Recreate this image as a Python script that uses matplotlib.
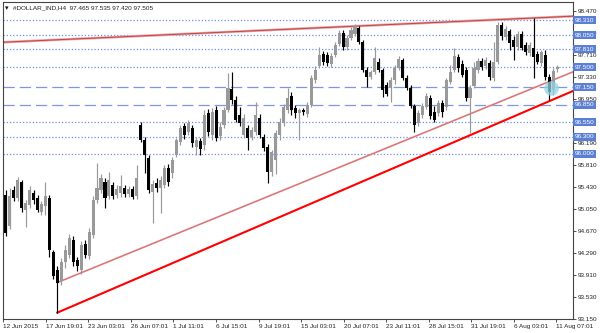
import numpy as np
import matplotlib
matplotlib.use("Agg")
import matplotlib.pyplot as plt

# H4 candles (roughly one candle per 4 px)
opens = [95.29, 94.76, 95.38, 95.24, 95.52, 95.03, 95.12, 95.33, 95.24, 95.00,
         95.11, 95.24, 94.31, 94.00, 93.81, 94.14, 94.25, 94.52, 94.17, 94.00,
         94.45, 94.24, 94.60, 95.21, 95.38, 95.52, 95.28, 95.47, 95.29, 95.33,
         95.41, 95.31, 95.40, 95.28, 96.50, 96.24, 95.93, 95.34, 95.50, 95.41,
         95.47, 95.76, 95.67, 95.98, 96.21, 96.48, 96.38, 96.45, 96.12, 96.22,
         96.16, 96.71, 96.33, 96.76, 96.31, 96.50, 96.76, 97.12, 96.93, 96.67,
         96.33, 96.45, 96.29, 96.38, 96.62, 96.29, 96.12, 95.69, 95.90, 96.33,
         96.53, 96.76, 97.00, 96.79, 96.71, 96.76, 96.69, 96.85, 97.28, 97.52,
         97.73, 97.71, 97.55, 97.71, 97.90, 98.09, 97.85, 98.00, 98.07, 98.18,
         97.93, 97.45, 97.33, 97.42, 97.59, 97.45, 97.19, 97.14, 97.28, 97.48,
         97.62, 97.31, 97.14, 96.83, 96.53, 96.67, 96.81, 96.97, 96.73, 96.71,
         96.88, 96.81, 97.24, 97.45, 97.67, 97.55, 97.45, 96.97, 97.17, 97.45,
         97.61, 97.52, 97.57, 97.31, 97.59, 98.23, 98.02, 98.12, 97.97, 97.85,
         98.07, 97.88, 97.74, 97.83, 97.73, 97.57, 97.71, 97.33, 97.11, 97.465]
highs = [95.38, 95.41, 95.45, 95.60, 95.55, 95.21, 95.45, 95.38, 95.29, 95.19,
         95.52, 95.29, 94.34, 94.07, 94.20, 94.42, 94.62, 94.59, 94.22, 94.50,
         94.52, 94.72, 95.28, 95.85, 95.65, 95.58, 95.69, 95.52, 95.47, 95.64,
         95.47, 95.45, 95.45, 95.81, 96.55, 96.29, 95.98, 95.55, 95.58, 95.62,
         95.81, 95.83, 95.95, 96.28, 96.50, 96.53, 96.59, 96.50, 96.29, 96.28,
         96.76, 96.78, 96.79, 96.83, 96.55, 96.81, 97.40, 97.42, 97.00, 96.81,
         96.69, 96.50, 96.47, 96.90, 96.69, 96.35, 96.17, 96.07, 96.42, 96.62,
         96.86, 97.14, 97.07, 96.85, 96.79, 96.79, 96.90, 97.36, 97.52, 97.85,
         97.78, 97.76, 97.74, 97.93, 98.14, 98.14, 98.06, 98.19, 98.25, 98.21,
         97.97, 97.50, 97.45, 97.85, 97.66, 97.48, 97.24, 97.33, 97.54, 97.69,
         97.66, 97.36, 97.19, 96.86, 96.76, 96.88, 97.05, 97.02, 96.83, 96.93,
         96.93, 97.31, 97.54, 97.83, 97.73, 97.62, 97.50, 97.19, 97.59, 97.66,
         97.66, 97.67, 97.62, 97.93, 98.28, 98.28, 98.21, 98.16, 98.04, 98.12,
         98.12, 97.93, 97.93, 98.35, 97.78, 97.80, 97.80, 97.38, 97.48, 97.535]
lows = [94.59, 94.70, 95.19, 95.19, 95.00, 94.74, 95.07, 95.14, 95.00, 94.95,
        94.95, 94.22, 93.84, 93.26, 93.74, 94.03, 94.20, 94.07, 93.98, 93.93,
        94.20, 94.19, 94.55, 95.16, 95.33, 95.07, 95.22, 95.22, 95.24, 95.26,
        95.26, 95.26, 95.22, 95.22, 96.21, 95.67, 95.33, 94.81, 95.34, 94.98,
        95.41, 95.45, 95.58, 95.95, 96.16, 96.26, 96.33, 96.12, 95.98, 95.98,
        96.07, 96.31, 96.24, 96.22, 96.24, 96.45, 96.73, 96.86, 96.55, 96.48,
        96.28, 96.07, 96.24, 96.33, 96.28, 96.05, 95.50, 95.62, 95.65, 96.24,
        96.48, 96.71, 96.67, 96.62, 96.24, 96.67, 96.64, 96.81, 97.23, 97.48,
        97.54, 97.52, 97.50, 97.67, 97.87, 97.80, 97.80, 97.97, 98.04, 97.90,
        97.42, 97.16, 97.30, 97.38, 97.42, 96.99, 97.00, 96.90, 97.21, 97.45,
        97.28, 97.11, 96.79, 96.38, 96.48, 96.62, 96.78, 96.60, 96.55, 96.66,
        96.64, 96.76, 97.21, 97.42, 97.42, 97.33, 96.92, 96.36, 97.14, 97.40,
        97.45, 97.47, 97.28, 97.26, 97.55, 97.97, 97.97, 97.80, 97.62, 97.80,
        97.80, 97.71, 97.69, 97.31, 97.55, 97.52, 97.28, 96.93, 97.02, 97.420]
closes = [94.64, 95.28, 95.24, 95.55, 95.07, 95.16, 95.38, 95.21, 95.03, 95.14,
          95.28, 94.34, 93.90, 93.77, 94.14, 94.34, 94.55, 94.14, 94.07, 94.43,
          94.25, 94.65, 95.21, 95.41, 95.58, 95.24, 95.55, 95.28, 95.40, 95.45,
          95.31, 95.40, 95.26, 95.58, 96.24, 95.98, 95.38, 95.48, 95.41, 95.55,
          95.76, 95.52, 95.90, 96.24, 96.45, 96.33, 96.53, 96.19, 96.24, 96.09,
          96.67, 96.38, 96.73, 96.28, 96.47, 96.76, 97.14, 96.93, 96.59, 96.53,
          96.62, 96.28, 96.42, 96.67, 96.33, 96.10, 95.69, 96.03, 96.36, 96.55,
          96.81, 96.97, 96.76, 96.71, 96.76, 96.73, 96.85, 97.31, 97.45, 97.71,
          97.59, 97.57, 97.69, 97.88, 98.09, 97.85, 98.00, 98.14, 98.21, 97.93,
          97.45, 97.33, 97.42, 97.66, 97.45, 97.11, 97.04, 97.28, 97.48, 97.64,
          97.31, 97.14, 96.83, 96.50, 96.71, 96.83, 97.00, 96.66, 96.59, 96.88,
          96.73, 97.28, 97.42, 97.69, 97.48, 97.36, 96.97, 97.14, 97.48, 97.61,
          97.50, 97.62, 97.33, 97.59, 98.23, 98.04, 98.16, 97.92, 97.85, 98.07,
          97.83, 97.76, 97.88, 97.67, 97.59, 97.76, 97.33, 97.07, 97.43, 97.505]

time_labels = ["12 Jun 2015", "17 Jun 19:01", "23 Jun 03:01", "26 Jun 07:01",
               "1 Jul 11:01", "6 Jul 15:01", "9 Jul 19:01", "15 Jul 03:01",
               "20 Jul 07:01", "23 Jul 11:01", "28 Jul 15:01", "31 Jul 19:01",
               "6 Aug 03:01", "11 Aug 07:01"]

dotted_levels = [98.310, 98.050, 97.810, 97.500, 96.550, 96.300, 96.000]
dashed_levels = [97.150, 96.850]

# trend lines as (candle index, price) pairs
top_line = ([-0.6, 143.0], [97.93, 98.38])
mid_line = ([13, 143.0], [93.78, 97.42])
low_line = ([13, 143.0], [93.26, 97.09])
marker_pt = (137.4, 97.14)

title = "#DOLLAR_IND,H4  97.465 97.535 97.420 97.505"

FONT = ["Liberation Sans", "DejaVu Sans"]
plt.rcParams["font.family"] = FONT

o = np.array(opens)
h = np.array(highs)
l = np.array(lows)
c = np.array(closes)
idx = np.arange(len(o))
up = c >= o

fig = plt.figure(figsize=(6, 3.33), dpi=100)
ax = fig.add_axes([3 / 600, 1 - 319 / 333, 570 / 600, 317 / 333])

bull = "#999999"
bear = "#000000"
cols = np.where(up, bull, bear)

ax.vlines(idx, l, h, colors=cols, linewidth=0.85, zorder=3)
body = np.maximum(np.abs(c - o), 0.015)
ax.bar(idx, body, bottom=np.minimum(o, c), width=0.78, color=cols,
       linewidth=0, zorder=4)

for lv in dotted_levels:
    ax.axhline(lv, color="#6f8fe6", linewidth=0.9, linestyle=(0, (1, 1.6)), zorder=1)
for lv in dashed_levels:
    ax.axhline(lv, color="#7b98e0", linewidth=0.9, linestyle=(0, (9, 4)), zorder=1)

ax.plot(*top_line, color="#e7a0a0", linewidth=1.8, zorder=2, solid_capstyle="butt")
ax.plot(*top_line, color="#c03838", linewidth=0.6, zorder=2)
ax.plot(*mid_line, color="#e39595", linewidth=1.3, zorder=2)
ax.plot(*mid_line, color="#d06060", linewidth=0.4, zorder=2)
ax.plot(*low_line, color="#ff0000", linewidth=1.5, zorder=2)
ax.plot([mid_line[0][0], low_line[0][0]], [mid_line[1][0], low_line[1][0]],
        color="#555555", linewidth=0.7, zorder=2)

ax.scatter([marker_pt[0]], [marker_pt[1]], s=110, color="#8fd3e3", alpha=0.75,
           linewidths=0, zorder=5)

ax.set_xlim(-0.7, 142.95)
ax.set_ylim(93.15, 98.625)

# regular price scale; 96.570 sits fully under the 96.550 level box
yt = np.round(93.15 + 0.38 * np.arange(15), 3)
yt = yt[np.abs(yt - 96.57) > 0.001]
ax.yaxis.tick_right()
ax.set_yticks(yt)
ax.set_yticklabels([f"{v:.3f}" for v in yt])
xt = -0.62 + 10.72 * np.arange(len(time_labels))
ax.set_xticks(xt)
ax.set_xticklabels(time_labels, ha="left")

ax.tick_params(axis="both", labelsize=4.6, length=2.5, width=0.6,
               color="#333333", labelcolor="#222222", pad=1.2)
for s in ax.spines.values():
    s.set_color("#444444")
    s.set_linewidth(0.8)

tr = ax.get_yaxis_transform()
for lv in dotted_levels + dashed_levels:
    ax.text(1.003, lv, f"{lv:.3f}", transform=tr, fontsize=4.6, color="white",
            va="center", ha="left", zorder=10, clip_on=False,
            bbox=dict(boxstyle="square,pad=0.25", fc="#5c7fd6", ec="none"))

fig.text(5 / 600, 1 - 8 / 333, "\u25be", fontsize=5, va="center", ha="left",
         color="#111111", family=["DejaVu Sans"])
fig.text(13 / 600, 1 - 8 / 333, title, fontsize=4.6, va="center", ha="left",
         color="#222222")

fig.savefig("out.png", dpi=100)
